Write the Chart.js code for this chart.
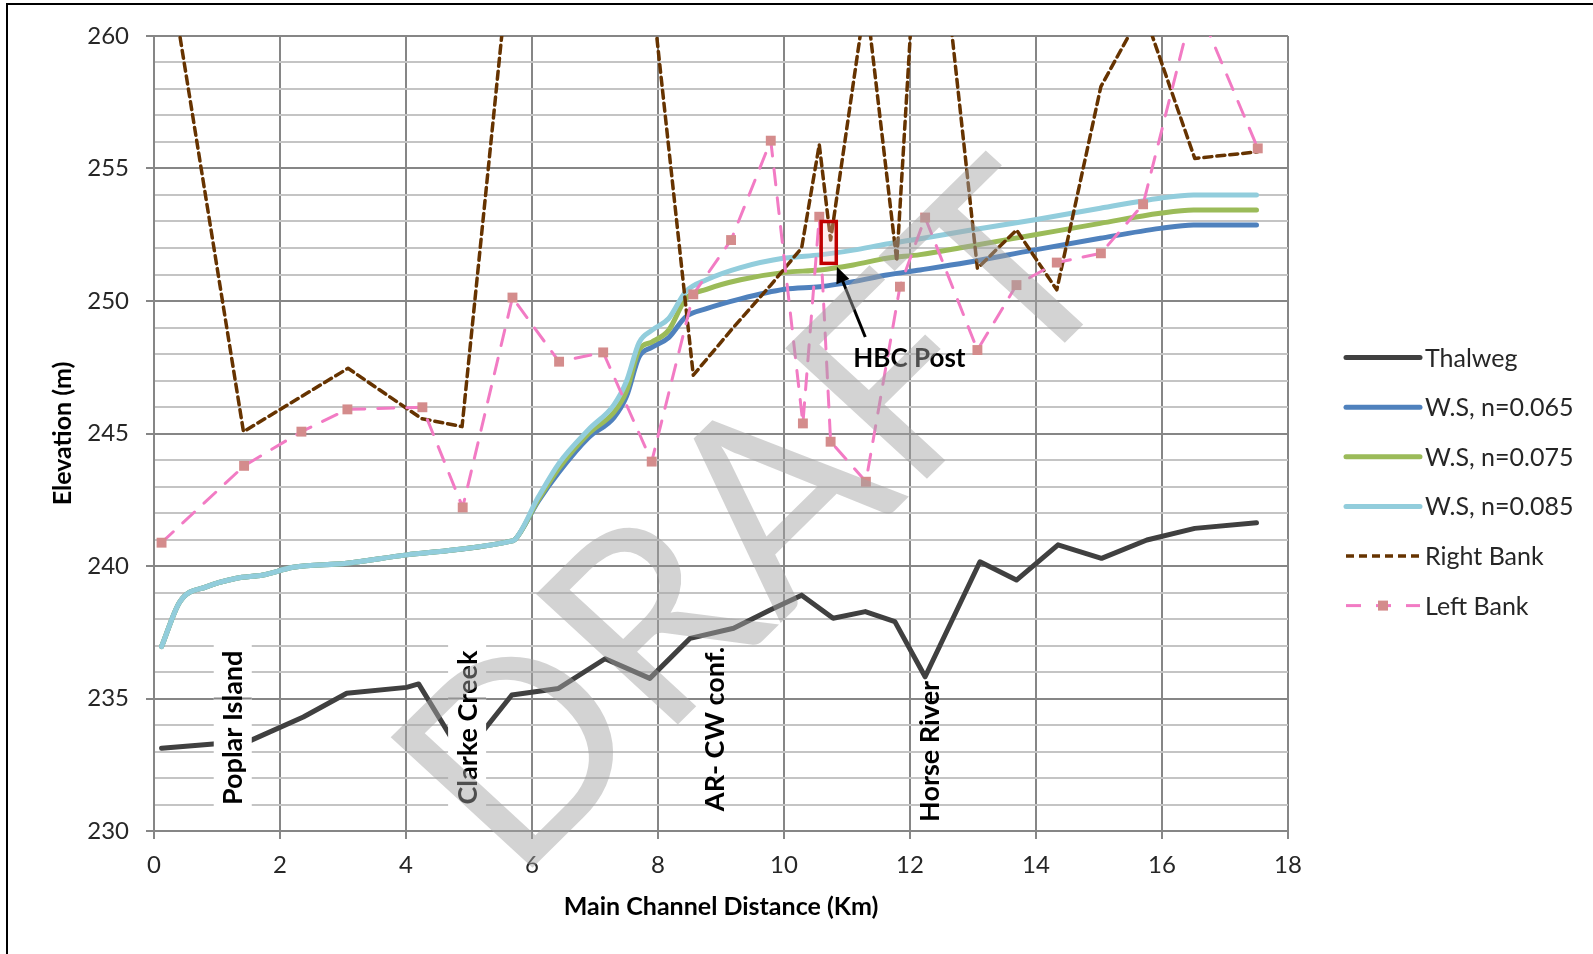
<!DOCTYPE html>
<html>
<head>
<meta charset="utf-8">
<script src="https://cdn.jsdelivr.net/npm/chart.js@4.4.1/dist/chart.umd.min.js"></script>
<style>
  html, body { margin: 0; padding: 0; background: #fff; }
  #wrap { width: 1593px; height: 954px; }
</style>
</head>
<body>
<div id="wrap"><canvas id="chart" width="1593" height="954"></canvas></div>
<script>
// distances in km, elevations in m
const thalwegKm = [0.12, 1.52, 2.37, 3.06, 4.01, 4.2, 4.7, 5.2, 5.68, 6.42, 7.16, 7.87, 8.51, 9.2, 9.78, 10.28, 10.78, 11.29, 11.76, 12.24, 13.11, 13.69, 14.35, 15.04, 15.76, 16.52, 17.5];
const thalwegElev = [233.12, 233.4, 234.3, 235.2, 235.42, 235.55, 233.6, 233.7, 235.13, 235.38, 236.5, 235.76, 237.27, 237.65, 238.34, 238.9, 238.03, 238.28, 237.9, 235.82, 240.16, 239.47, 240.8, 240.29, 240.98, 241.42, 241.63];

const wsKm = [0.12, 0.41, 0.84, 1.31, 1.73, 2.21, 3.06, 4.01, 4.75, 5.63, 5.73, 6.1, 6.43, 6.9, 7.3, 7.5, 7.7, 7.9, 8.17, 8.44, 8.77, 9.31, 10.01, 10.57, 11.1, 11.63, 12.16, 12.9, 13.96, 15.02, 15.97, 16.5, 17.5];
const ws065 = [236.96, 238.65, 239.22, 239.54, 239.66, 239.95, 240.1, 240.42, 240.6, 240.92, 241.0, 242.45, 243.55, 244.85, 245.6, 246.4, 247.89, 248.25, 248.62, 249.4, 249.71, 250.08, 250.44, 250.54, 250.73, 250.98, 251.17, 251.45, 251.92, 252.37, 252.74, 252.87, 252.87];
const ws075 = [236.96, 238.65, 239.22, 239.54, 239.66, 239.95, 240.1, 240.42, 240.6, 240.92, 241.0, 242.5, 243.7, 245.0, 245.8, 246.6, 248.16, 248.45, 248.9, 250.08, 250.44, 250.8, 251.08, 251.17, 251.36, 251.61, 251.75, 252.05, 252.49, 252.93, 253.31, 253.43, 253.43];
const ws085 = [236.96, 238.65, 239.22, 239.54, 239.66, 239.95, 240.1, 240.42, 240.6, 240.92, 241.0, 242.6, 243.88, 245.15, 246.08, 246.97, 248.43, 248.89, 249.34, 250.35, 250.8, 251.26, 251.62, 251.74, 251.92, 252.15, 252.35, 252.65, 253.06, 253.5, 253.88, 254.0, 254.0];

const rightKm = [0.12, 1.42, 3.08, 4.25, 4.89, 5.72, 6.43, 7.13, 7.87, 8.56, 9.16, 9.79, 10.28, 10.56, 10.74, 11.3, 11.79, 12.24, 13.07, 13.69, 14.33, 15.03, 15.7, 16.52, 17.52];
const rightElev = [264.3, 245.07, 247.46, 245.56, 245.26, 264.7, 268.0, 268.0, 262.4, 247.2, 248.9, 250.6, 252.0, 255.9, 252.3, 261.5, 251.5, 269.4, 251.23, 252.68, 250.42, 258.09, 261.0, 255.38, 255.63];

const leftKm = [0.12, 1.43, 2.34, 3.07, 4.26, 4.9, 5.69, 6.43, 7.13, 7.9, 8.56, 9.16, 9.79, 10.3, 10.56, 10.74, 11.3, 11.84, 12.24, 13.07, 13.69, 14.33, 15.03, 15.7, 16.52, 17.52];
const leftElev = [240.88, 243.78, 245.07, 245.91, 245.99, 242.21, 250.13, 247.71, 248.06, 243.94, 250.25, 252.3, 256.05, 245.38, 253.18, 244.69, 243.18, 250.54, 253.15, 248.15, 250.6, 251.45, 251.8, 253.65, 261.4, 255.76];

// places along the channel
const siteNames = ['Poplar Island', 'Clarke Creek', 'AR- CW conf.', 'Horse River'];
const siteKm = [1.25, 4.97, 8.9, 12.3];
const siteBase = [230.98, 231.0, 230.75, 230.34];

const pts = (xs, ys) => xs.map((v, i) => ({ x: v, y: ys[i] }));

const FONT = 'Lato, "Open Sans", sans-serif';

const overlay = {
  id: 'overlay',
  afterDatasetsDraw(chart) {
    const { ctx, scales: { x, y } } = chart;

    // site labels (first two sit on white boxes)
    ctx.save();
    ctx.font = 'bold 27px ' + FONT;
    siteNames.forEach((name, i) => {
      const px = x.getPixelForValue(siteKm[i]);
      const py = y.getPixelForValue(siteBase[i]);
      const w = ctx.measureText(name).width;
      if (i < 2) {
        const top = py - w - 30, bot = py + 7;
        ctx.fillStyle = '#fff';
        ctx.fillRect(px - 19, top, 38, bot - top);
        ctx.strokeStyle = '#868686';
        ctx.lineWidth = 2;
        [235].forEach(v => {
          const yy = y.getPixelForValue(v);
          ctx.beginPath(); ctx.moveTo(px - 19, yy); ctx.lineTo(px + 19, yy); ctx.stroke();
        });
      }
      ctx.save();
      ctx.translate(px, py);
      ctx.rotate(-Math.PI / 2);
      ctx.textAlign = 'left';
      ctx.textBaseline = 'middle';
      ctx.fillStyle = '#000';
      ctx.fillText(name, 0, 1);
      ctx.restore();
    });

    // HBC Post box, arrow and text
    const bx1 = x.getPixelForValue(10.59), bx2 = x.getPixelForValue(10.83);
    const by1 = y.getPixelForValue(253.0), by2 = y.getPixelForValue(251.42);
    ctx.fillStyle = 'rgba(255,200,200,0.3)';
    ctx.fillRect(bx1, by1, bx2 - bx1, by2 - by1);
    ctx.strokeStyle = '#c00000';
    ctx.lineWidth = 3.5;
    ctx.strokeRect(bx1, by1, bx2 - bx1, by2 - by1);

    const tx = x.getPixelForValue(10.84), ty = y.getPixelForValue(251.29);
    const sx = x.getPixelForValue(11.29), sy = y.getPixelForValue(248.64);
    const ang = Math.atan2(ty - sy, tx - sx);
    ctx.strokeStyle = '#000';
    ctx.fillStyle = '#000';
    ctx.lineWidth = 3;
    ctx.beginPath();
    ctx.moveTo(sx, sy);
    ctx.lineTo(tx - 12 * Math.cos(ang), ty - 12 * Math.sin(ang));
    ctx.stroke();
    ctx.beginPath();
    ctx.moveTo(tx, ty);
    ctx.lineTo(tx - 16 * Math.cos(ang) + 7 * Math.sin(ang), ty - 16 * Math.sin(ang) - 7 * Math.cos(ang));
    ctx.lineTo(tx - 16 * Math.cos(ang) - 7 * Math.sin(ang), ty - 16 * Math.sin(ang) + 7 * Math.cos(ang));
    ctx.closePath();
    ctx.fill();

    ctx.font = 'bold 26px ' + FONT;
    ctx.textAlign = 'left';
    ctx.textBaseline = 'middle';
    ctx.fillText('HBC Post', x.getPixelForValue(11.1), y.getPixelForValue(247.81));
    ctx.restore();
  },
  afterDraw(chart) {
    const ctx = chart.ctx;
    ctx.save();

    // legend
    const lx1 = 1346, lx2 = 1420, ly0 = 357.6, step = 49.6;
    ctx.font = '25px ' + FONT;
    ctx.textAlign = 'left';
    ctx.textBaseline = 'middle';
    chart.data.datasets.forEach((ds, i) => {
      const yy = ly0 + i * step;
      ctx.strokeStyle = ds.borderColor;
      ctx.lineWidth = ds.borderWidth;
      ctx.lineCap = ds.borderDash.length ? 'butt' : 'round';
      ctx.setLineDash(ds.borderDash.length > 0 && ds.pointRadius > 0 ? [15, 15] : ds.borderDash);
      ctx.beginPath(); ctx.moveTo(lx1, yy); ctx.lineTo(lx2, yy); ctx.stroke();
      ctx.setLineDash([]);
      if (ds.pointRadius > 0) {
        ctx.fillStyle = ds.pointBackgroundColor;
        ctx.fillRect((lx1 + lx2) / 2 - 5, yy - 5, 10, 10);
      }
      ctx.fillStyle = '#262626';
      ctx.fillText(ds.label, 1425, yy + 1);
    });

    // watermark
    ctx.translate(515, 885);
    ctx.scale(1.05, 1);
    ctx.rotate(-46 * Math.PI / 180);
    ctx.font = '262px ' + FONT;
    ctx.fillStyle = 'rgba(163,163,163,0.48)';
    ctx.textAlign = 'left';
    ctx.textBaseline = 'alphabetic';
    ctx.fillText('DRAFT', 0, 0);
    ctx.restore();

    // frame
    ctx.save();
    ctx.strokeStyle = '#000';
    ctx.lineWidth = 2;
    ctx.beginPath();
    ctx.moveTo(7, 954); ctx.lineTo(7, 4); ctx.lineTo(1593, 4);
    ctx.stroke();
    ctx.restore();
  }
};

const ctx = document.getElementById('chart').getContext('2d');
new Chart(ctx, {
  type: 'line',
  data: {
    datasets: [
      { label: 'Thalweg', data: pts(thalwegKm, thalwegElev), borderColor: '#404040', borderWidth: 5, borderDash: [], pointRadius: 0, tension: 0, order: 5 },
      { label: 'W.S, n=0.065', data: pts(wsKm, ws065), borderColor: '#4f81bd', borderWidth: 5, borderDash: [], pointRadius: 0, cubicInterpolationMode: 'monotone', order: 4 },
      { label: 'W.S, n=0.075', data: pts(wsKm, ws075), borderColor: '#9bbb59', borderWidth: 5, borderDash: [], pointRadius: 0, cubicInterpolationMode: 'monotone', order: 3 },
      { label: 'W.S, n=0.085', data: pts(wsKm, ws085), borderColor: '#92cddc', borderWidth: 5, borderDash: [], pointRadius: 0, cubicInterpolationMode: 'monotone', order: 2 },
      { label: 'Right Bank', data: pts(rightKm, rightElev), borderColor: '#663300', borderWidth: 3.5, borderDash: [8, 5], pointRadius: 0, tension: 0, order: 1 },
      { label: 'Left Bank', data: pts(leftKm, leftElev), borderColor: '#f27bc4', borderWidth: 3, borderDash: [16, 13], pointRadius: 7, pointStyle: 'rect', pointBackgroundColor: '#d48c8c', pointBorderColor: '#d48c8c', pointBorderWidth: 0, tension: 0, order: 0 }
    ]
  },
  options: {
    responsive: false,
    animation: false,
    elements: { line: { borderJoinStyle: 'round', borderCapStyle: 'round' } },
    layout: { padding: { top: 36, right: 305, bottom: 0, left: 0 } },
    plugins: { legend: { display: false }, tooltip: { enabled: false } },
    datasets: { line: { clip: 0 } },
    scales: {
      x: {
        type: 'linear',
        min: 0,
        max: 18,
        afterFit: s => { s.height = 123; },
        ticks: { stepSize: 2, autoSkip: false, padding: 12, color: '#262626', font: { family: FONT, size: 24 } },
        grid: { color: '#868686', lineWidth: 2, tickLength: 8, tickColor: '#868686' },
        border: { color: '#868686', width: 2 },
        title: { display: true, text: 'Main Channel Distance (Km)', color: '#000', font: { family: FONT, size: 25, weight: 'bold' }, padding: { top: 0, bottom: 32 } }
      },
      y: {
        min: 230,
        max: 260,
        afterFit: s => { s.width = 154; },
        ticks: {
          stepSize: 1,
          autoSkip: false,
          padding: 17,
          color: '#262626',
          font: { family: FONT, size: 24 },
          callback: v => (v % 5 === 0 ? v : '')
        },
        grid: {
          lineWidth: 2,
          tickLength: 8,
          color: c => (c.tick && c.tick.value % 5 === 0 ? '#868686' : '#c4c4c4'),
          tickColor: c => (c.tick && c.tick.value % 5 === 0 ? '#868686' : 'rgba(0,0,0,0)')
        },
        border: { color: '#868686', width: 2 },
        title: { display: true, text: 'Elevation (m)', color: '#000', font: { family: FONT, size: 25, weight: 'bold' }, padding: { top: 48, bottom: 0 } }
      }
    }
  },
  plugins: [overlay]
});
</script>
</body>
</html>
